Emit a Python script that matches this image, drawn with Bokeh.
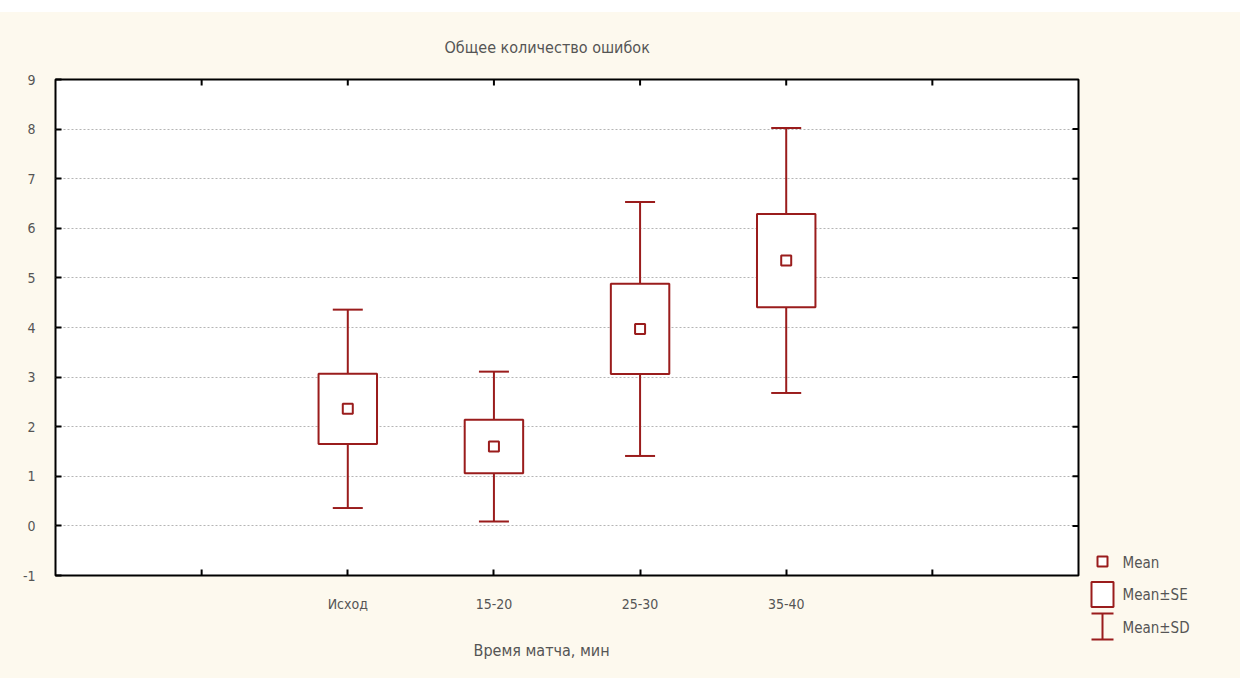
from bokeh.plotting import figure
from bokeh.models import (Range1d, FixedTicker, Whisker, TeeHead, Title,
                          ColumnDataSource, Spacer)
from bokeh.layouts import row, column
from bokeh.embed import file_html
from bokeh.resources import INLINE
from bokeh.core.properties import value

# ---- data ----
categories = ["Исход", "15-20", "25-30", "35-40"]
means = [2.36, 1.60, 3.97, 5.35]
se = [0.71, 0.54, 0.91, 0.94]
sd = [2.00, 1.51, 2.56, 2.67]
y_ticks = [-1, 0, 1, 2, 3, 4, 5, 6, 7, 8, 9]
title_text = "Общее количество ошибок"
x_label = "Время матча, мин"
legend_labels = ["Mean", "Mean±SE", "Mean±SD"]

# ---- styling / layout ----
CREAM = "#fdf9ee"
RED = "#9a1c1c"
TXT = "#555555"
FONT = "'Liberation Sans Narrow', 'DejaVu Sans Condensed', 'Roboto', sans-serif"
FW, FH = 1023, 496
BL, BT, BR, BB = 50, 67, 10, 103
X0, X1, Y0, Y1 = 0, len(categories) + 3, -1, 9
PAGE_L, PAGE_T = 5, 12
MAIN_W = BL + FW + BR
H = BT + FH + BB
LEG_W = 1240 - PAGE_L - MAIN_W

pos = [i + 2 for i in range(len(categories))]

src = ColumnDataSource(dict(
    x=pos,
    mean=means,
    se_lo=[m - s for m, s in zip(means, se)],
    se_hi=[m + s for m, s in zip(means, se)],
    sd_lo=[m - s for m, s in zip(means, sd)],
    sd_hi=[m + s for m, s in zip(means, sd)],
    left=[p - 0.2 for p in pos],
    right=[p + 0.2 for p in pos],
))

p = figure(frame_width=FW, frame_height=FH,
           x_range=Range1d(X0, X1), y_range=Range1d(Y0, Y1),
           output_backend="svg", toolbar_location=None,
           min_border_left=BL, min_border_right=BR,
           min_border_top=BT, min_border_bottom=BB)
p.background_fill_color = "white"
p.border_fill_color = CREAM
p.outline_line_color = "black"
p.outline_line_width = 2

ux = (X1 - X0) / FW
uy = (Y1 - Y0) / FH

# title
p.title.text = title_text
p.title.align = "left"
p.title.offset = 389
p.title.text_font = FONT
p.title.text_font_size = "16px"
p.title.text_font_style = "normal"
p.title.text_color = TXT
p.title.standoff = 45

def style_axis(ax):
    ax.axis_line_color = None
    ax.major_tick_in = 6
    ax.major_tick_out = 0
    ax.major_tick_line_color = "black"
    ax.major_tick_line_width = 2
    ax.minor_tick_line_color = None
    ax.major_label_text_font = FONT
    ax.major_label_text_color = TXT
    ax.major_label_text_font_size = "14px"

xa = p.xaxis[0]
xa.ticker = FixedTicker(ticks=pos)
xa.major_label_overrides = {xx: c for c, xx in zip(categories, pos)}
style_axis(xa)
xa.major_label_standoff = 20

ya = p.yaxis[0]
ya.ticker = FixedTicker(ticks=y_ticks)
ya.major_label_overrides = {t: str(t) for t in y_ticks}
style_axis(ya)
ya.major_label_standoff = 20

xl = Title(text=x_label, align="left", offset=418, text_font=FONT,
           text_font_size="16px", text_font_style="normal", text_color=TXT,
           standoff=48)
p.add_layout(xl, "below")

# inward tick marks on the other frame sides
all_x_ticks = list(range(X0 + 1, X1))
tick_len_x = 6 * ux
tick_len_y = 6 * uy
inner_y = [t for t in y_ticks if Y0 < t < Y1]
p.segment(x0=all_x_ticks, x1=all_x_ticks, y0=[Y1] * len(all_x_ticks),
          y1=[Y1 - tick_len_y] * len(all_x_ticks), line_color="black", line_width=2)
edge_x = [t for t in all_x_ticks if t not in pos]
p.segment(x0=edge_x, x1=edge_x, y0=[Y0] * len(edge_x),
          y1=[Y0 + tick_len_y] * len(edge_x), line_color="black", line_width=2)
p.segment(x0=[X1] * len(inner_y), x1=[X1 - tick_len_x] * len(inner_y),
          y0=inner_y, y1=inner_y, line_color="black", line_width=2)

p.xgrid.grid_line_color = None
p.ygrid.ticker = FixedTicker(ticks=inner_y)
p.ygrid.grid_line_color = "#b5b5b5"
p.ygrid.grid_line_dash = "2 2"
p.ygrid.grid_line_width = 1

# whiskers (Mean ± SD)
wh = Whisker(source=src, base="x", lower="sd_lo", upper="sd_hi",
             line_color=RED, line_width=2,
             lower_head=TeeHead(size=30, line_color=RED, line_width=2),
             upper_head=TeeHead(size=30, line_color=RED, line_width=2))
p.add_layout(wh)

# boxes (Mean ± SE)
p.quad(left="left", right="right", bottom="se_lo", top="se_hi", source=src,
       fill_color="white", line_color=RED, line_width=2)

# means
p.scatter(x="x", y="mean", source=src, marker="square", size=10,
          fill_color="white", line_color=RED, line_width=2)

# ---- legend panel (page pixel coordinates) ----
lx0 = PAGE_L + MAIN_W
lg = figure(width=LEG_W, height=H,
            x_range=Range1d(lx0, lx0 + LEG_W), y_range=Range1d(PAGE_T + H, PAGE_T),
            output_backend="svg", toolbar_location=None,
            min_border=0, min_border_left=0, min_border_right=0,
            min_border_top=0, min_border_bottom=0)
lg.frame_align = False
lg.axis.visible = False
lg.grid.visible = False
lg.outline_line_color = None
lg.background_fill_color = CREAM
lg.border_fill_color = CREAM

icon_x = 1102
lg.scatter(x=[icon_x], y=[561], marker="square", size=10,
           fill_color="white", line_color=RED, line_width=2)
lg.rect(x=[icon_x], y=[594], width=22, height=25, fill_color="white",
        line_color=RED, line_width=2)
lg.segment(x0=[icon_x, icon_x - 11, icon_x - 11], y0=[613, 613, 639],
           x1=[icon_x, icon_x + 11, icon_x + 11], y1=[639, 613, 639],
           line_color=RED, line_width=2)
lg.text(x=[1122] * 3, y=[562, 594, 627], text=legend_labels,
        text_font=value(FONT), text_font_size="15px", text_color=TXT,
        text_baseline="middle")

inner = row(Spacer(width=PAGE_L), p, lg, spacing=0)
inner.styles = {"background-color": CREAM}
layout = column(Spacer(height=PAGE_T), inner, spacing=0)

open("out.html", "w").write(file_html(layout, INLINE))
